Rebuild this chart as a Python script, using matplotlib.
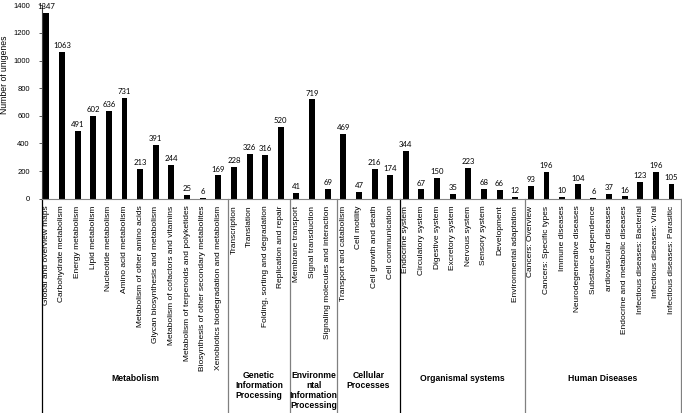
import numpy as np
import matplotlib
matplotlib.use("Agg")
import matplotlib.pyplot as plt

categories = [
    "Global and overview maps", "Carbohydrate metabolism", "Energy metabolism",
    "Lipid metabolism", "Nucleotide metabolism", "Amino acid metabolism",
    "Metabolism of other amino acids", "Glycan biosynthesis and metabolism",
    "Metabolism of cofactors and vitamins",
    "Metabolism of terpenoids and polyketides",
    "Biosynthesis of other secondary metabolites",
    "Xenobiotics biodegradation and metabolism",
    "Transcription", "Translation", "Folding, sorting and degradation",
    "Replication and repair",
    "Membrane transport", "Signal transduction",
    "Signaling molecules and interaction",
    "Transport and catabolism", "Cell motility", "Cell growth and death",
    "Cell communication",
    "Endocrine system", "Circulatory system", "Digestive system",
    "Excretory system", "Nervous system", "Sensory system", "Development",
    "Environmental adaptation",
    "Cancers: Overview", "Cancers: Specific types", "Immune diseases",
    "Neurodegenerative diseases", "Substance dependence",
    "ardiovascular diseases", "Endocrine and metabolic diseases",
    "Infectious diseases: Bacterial", "Infectious diseases: Viral",
    "Infectious diseases: Parasitic",
]
values = [
    1347, 1063, 491, 602, 636, 731, 213, 391, 244, 25, 6, 169,
    228, 326, 316, 520,
    41, 719, 69,
    469, 47, 216, 174,
    344, 67, 150, 35, 223, 68, 66, 12,
    93, 196, 10, 104, 6, 37, 16, 123, 196, 105,
]
group_names = [
    "Metabolism",
    "Genetic\nInformation\nProcessing",
    "Environme\nntal\nInformation\nProcessing",
    "Cellular\nProcesses",
    "Organismal systems",
    "Human Diseases",
]
group_sizes = [12, 4, 3, 4, 8, 10]
y_ticks = [0, 200, 400, 600, 800, 1000, 1200, 1400]


def plot_data() -> None:
    '''
    [PLOT_DATA] bar chart of unigenes per KEGG pathway, with the pathway
    groups written under the category labels and split by vertical lines.
    '''
    fig = plt.figure(figsize=(6.82, 4.13), dpi=100)
    ax = fig.add_axes([0.062, 0.519, 0.938, 0.468])

    x = np.arange(len(categories))
    ax.bar(x, values, width=0.38, color="black")

    for xi, v in zip(x, values):
        ax.annotate(str(v), (xi, v), xytext=(0, 2), textcoords="offset points",
                    ha="center", va="bottom", fontsize=5.6, family="Lato")

    ax.set_xlim(-0.26, 40.67)
    ax.set_ylim(0, 1400)
    ax.set_yticks(y_ticks)
    ax.set_yticklabels([str(t) for t in y_ticks], fontsize=5.5,
                       family="Liberation Sans")
    ax.tick_params(axis="y", length=2, width=0.6, color="#404040", pad=7)

    ax.set_xticks(x)
    ax.set_xticklabels(categories, rotation=90, fontsize=6,
                       family="Liberation Sans")
    ax.tick_params(axis="x", length=0, pad=5)

    for side in ["top", "right"]:
        ax.spines[side].set_visible(False)
    ax.spines["left"].set_color("#404040")
    ax.spines["bottom"].set_color("#868686")
    ax.spines["left"].set_linewidth(0.8)
    ax.spines["bottom"].set_linewidth(0.8)

    fig.text(5 / 682, 1 - 75 / 413, "Number of unigenes", rotation=90,
             ha="center", va="center", fontsize=6.2, family="Liberation Sans")

    # group separators and labels below the axis
    trans = ax.get_xaxis_transform()
    ax.plot([-0.26, -0.26], [0, -1.12], transform=trans, color="black",
            lw=0.9, clip_on=False)
    start = 0
    for name, size in zip(group_names, group_sizes):
        end = start + size
        edge = end - 0.5 + 0.1
        color = "black" if name == "Cellular\nProcesses" else "#808080"
        ax.plot([edge, edge], [0, -1.12], transform=trans, color=color,
                lw=0.9, clip_on=False)
        left = -0.26 if start == 0 else start - 0.5 + 0.1
        mid = (left + edge) / 2
        if "\n" in name:
            ax.text(mid, -0.89, name, transform=trans, ha="center", va="top",
                    fontsize=6.2, fontweight="bold", family="Liberation Sans",
                    linespacing=1.15)
        else:
            ax.text(mid, -0.93, name, transform=trans, ha="center",
                    va="center", fontsize=6.2, fontweight="bold",
                    family="Liberation Sans")
        start = end

    fig.savefig("out.png", dpi=100)
    plt.close("all")


def main():
    plot_data()


if __name__ == "__main__":
    main()
